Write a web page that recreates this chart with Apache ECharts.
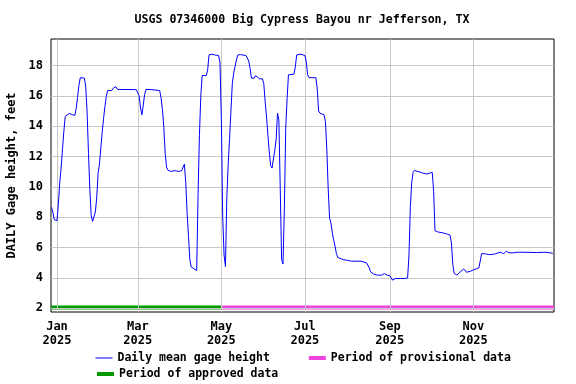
<!DOCTYPE html>
<html><head><meta charset="utf-8">
<script src="https://cdn.jsdelivr.net/npm/echarts@6/dist/echarts.min.js"></script>
<style>html,body{margin:0;padding:0;background:#fff}#c{width:576px;height:384px}</style>
</head><body><div id="c"></div>
<script>
const titleText = 'USGS 07346000 Big Cypress Bayou nr Jefferson, TX';
const yAxisTitle = 'DAILY Gage height, feet';
const seriesNames = ['Daily mean gage height', 'Period of provisional data', 'Period of approved data'];

const dates = [
'2024-12-28','2024-12-29','2024-12-30','2024-12-31','2025-01-01','2025-01-02','2025-01-03','2025-01-04','2025-01-05','2025-01-06',
'2025-01-07','2025-01-08','2025-01-10','2025-01-11','2025-01-14','2025-01-15','2025-01-16','2025-01-17','2025-01-18','2025-01-21',
'2025-01-22','2025-01-23','2025-01-24','2025-01-25','2025-01-26','2025-01-27','2025-01-28','2025-01-29','2025-01-30','2025-01-31',
'2025-02-01','2025-02-02','2025-02-03','2025-02-04','2025-02-05','2025-02-06','2025-02-07','2025-02-10','2025-02-11','2025-02-13',
'2025-02-14','2025-02-15','2025-02-16','2025-02-26','2025-02-28','2025-03-01','2025-03-02','2025-03-03','2025-03-04','2025-03-05',
'2025-03-06','2025-03-07','2025-03-10','2025-03-17','2025-03-18','2025-03-19','2025-03-20','2025-03-21','2025-03-22','2025-03-23',
'2025-03-25','2025-03-28','2025-03-31','2025-04-02','2025-04-03','2025-04-04','2025-04-05','2025-04-06','2025-04-07','2025-04-08',
'2025-04-09','2025-04-10','2025-04-11','2025-04-12','2025-04-13','2025-04-14','2025-04-15','2025-04-16','2025-04-17','2025-04-20',
'2025-04-21','2025-04-22','2025-04-24','2025-04-26','2025-04-29','2025-04-30','2025-05-01','2025-05-02','2025-05-03','2025-05-04',
'2025-05-05','2025-05-06','2025-05-07','2025-05-08','2025-05-09','2025-05-10','2025-05-11','2025-05-12','2025-05-13','2025-05-15',
'2025-05-19','2025-05-20','2025-05-21','2025-05-22','2025-05-23','2025-05-25','2025-05-26','2025-05-27','2025-05-29','2025-05-31',
'2025-06-01','2025-06-02','2025-06-03','2025-06-04','2025-06-05','2025-06-06','2025-06-07','2025-06-08','2025-06-09','2025-06-10',
'2025-06-11','2025-06-12','2025-06-13','2025-06-14','2025-06-15','2025-06-16','2025-06-17','2025-06-18','2025-06-19','2025-06-23',
'2025-06-24','2025-06-25','2025-06-28','2025-07-01','2025-07-02','2025-07-03','2025-07-04','2025-07-09','2025-07-10','2025-07-11',
'2025-07-12','2025-07-15','2025-07-16','2025-07-17','2025-07-18','2025-07-19','2025-07-20','2025-07-21','2025-07-22','2025-07-23',
'2025-07-24','2025-07-25','2025-07-26','2025-07-29','2025-08-01','2025-08-04','2025-08-11','2025-08-15','2025-08-16','2025-08-17',
'2025-08-18','2025-08-20','2025-08-23','2025-08-26','2025-08-28','2025-08-30','2025-09-01','2025-09-02','2025-09-03','2025-09-04',
'2025-09-05','2025-09-06','2025-09-09','2025-09-12','2025-09-14','2025-09-15','2025-09-16','2025-09-17','2025-09-18','2025-09-19',
'2025-09-21','2025-09-23','2025-09-25','2025-09-28','2025-09-30','2025-10-02','2025-10-03','2025-10-04','2025-10-06','2025-10-10',
'2025-10-13','2025-10-15','2025-10-16','2025-10-17','2025-10-18','2025-10-20','2025-10-21','2025-10-23','2025-10-25','2025-10-27',
'2025-10-28','2025-10-30','2025-11-01','2025-11-03','2025-11-05','2025-11-06','2025-11-07','2025-11-08','2025-11-10','2025-11-13',
'2025-11-17','2025-11-19','2025-11-21','2025-11-23','2025-11-24','2025-11-25','2025-11-27','2025-11-28','2025-11-30','2025-12-03',
'2025-12-08','2025-12-09','2025-12-17','2025-12-24','2025-12-29'
];
const gageHeight = [
8.65,8.34,7.84,7.77,7.77,8.87,10.25,11.24,12.45,13.65,
14.64,14.75,14.84,14.75,14.70,15.15,15.90,16.68,17.20,17.17,
16.60,14.90,12.20,9.80,8.10,7.73,7.85,8.34,9.27,10.90,
11.50,11.55,13.60,14.50,15.30,15.96,16.35,16.35,16.50,16.60,
16.44,16.50,16.42,16.42,16.40,16.30,16.00,15.20,14.75,15.40,
16.10,16.42,16.42,16.35,15.85,15.10,13.90,12.20,11.30,11.10,
11.02,11.07,11.02,11.07,11.20,11.50,10.30,8.30,6.80,5.20,
4.72,4.66,4.60,4.52,4.48,9.50,13.40,16.00,17.34,17.34,
17.70,18.70,18.75,18.70,18.66,18.20,14.50,8.00,5.50,4.75,
9.30,11.50,13.20,15.00,16.80,17.50,17.93,18.37,18.70,18.72,
18.66,18.55,18.30,17.80,17.17,17.17,17.34,17.22,17.12,17.12,
16.80,15.60,14.60,13.40,12.30,11.40,11.24,11.30,12.40,13.10,
14.86,14.40,9.90,5.20,4.92,8.50,13.87,15.80,17.39,17.43,
17.90,18.70,18.75,18.66,18.26,17.39,17.20,17.20,16.50,15.00,
14.86,14.75,14.30,12.50,9.92,7.95,7.62,7.00,6.50,6.10,
5.60,5.35,5.27,5.20,5.16,5.10,5.10,4.99,4.92,4.66,
4.40,4.26,4.18,4.18,4.28,4.18,4.15,4.00,3.85,3.90,
3.96,3.93,3.96,3.96,4.00,5.50,8.70,10.30,10.95,11.09,
11.02,10.98,10.91,10.85,10.91,10.95,9.70,7.11,7.03,6.96,
6.88,6.81,6.30,4.88,4.30,4.18,4.26,4.44,4.59,4.37,
4.26,4.44,4.53,4.59,4.66,5.10,5.60,5.62,5.58,5.53,
5.58,5.65,5.69,5.58,5.71,5.76,5.65,5.58,5.65,5.69,
5.69,5.62,5.67,5.69,5.62
];

const xTickDates = ['2025-01-01','2025-03-01','2025-05-01','2025-07-01','2025-09-01','2025-11-01'];
const xTickLabels = ['Jan\n2025','Mar\n2025','May\n2025','Jul\n2025','Sep\n2025','Nov\n2025'];
const yTicks = [2,4,6,8,10,12,14,16,18];
const xRange = ['2024-12-27 15:00','2025-12-29 21:00'];
const yRange = [1.75, 19.75];
const approvedPeriod = ['2024-12-27 15:00','2025-05-01 17:00'];
const provisionalPeriod = ['2025-05-01 17:00','2025-12-29 21:00'];
const periodBarLevel = 2.04;

function ts(s) {
  const m = s.match(/(\d+)-(\d+)-(\d+)(?:[ T](\d+):(\d+))?/);
  return Date.UTC(+m[1], +m[2]-1, +m[3], m[4] ? +m[4] : 0, m[5] ? +m[5] : 0);
}

const FONT = '"DejaVu Sans Mono", "Liberation Mono", monospace';
const xTickTs = xTickDates.map(ts);
const lineData = dates.map((d, i) => [ts(d), gageHeight[i]]);
const legendText = {fontFamily: FONT, fontWeight: 'bold', fontSize: 11.5, color: '#000', lineHeight: 14};
const legendCommon = {left: 95, padding: 0, itemWidth: 17, itemHeight: 8, textStyle: legendText,
  selectedMode: false, itemStyle: {opacity: 0, borderWidth: 0}};

const chart = echarts.init(document.getElementById('c'), null, {renderer: 'canvas'});
chart.setOption({
  animation: false,
  backgroundColor: '#fff',
  title: {
    text: titleText, left: 302, top: 14, textAlign: 'center', padding: 0,
    textStyle: {fontFamily: FONT, fontWeight: 'bold', fontSize: 11.6, color: '#000'}
  },
  grid: {left: 51, right: 22, top: 39, bottom: 72, outerBoundsMode: 'none', containLabel: false,
         show: true, borderColor: '#000', borderWidth: 1, backgroundColor: '#fff'},
  legend: [
    Object.assign({data: [
      {name: seriesNames[0], lineStyle: {width: 1}},
      {name: seriesNames[1], lineStyle: {width: 4}}
    ], top: 351, itemGap: 37}, legendCommon),
    Object.assign({data: [{name: seriesNames[2], lineStyle: {width: 4}}], top: 367}, legendCommon)
  ],
  xAxis: {
    type: 'value', min: ts(xRange[0]), max: ts(xRange[1]),
    axisLine: {show: false}, axisTick: {show: false}, splitLine: {show: false},
    axisLabel: {
      customValues: xTickTs,
      formatter: function (v) { const i = xTickTs.indexOf(v); return i >= 0 ? xTickLabels[i] : ''; },
      fontFamily: FONT, fontWeight: 'bold', fontSize: 12, lineHeight: 14, color: '#000', margin: 8
    }
  },
  yAxis: {
    type: 'value', min: yRange[0], max: yRange[1],
    name: yAxisTitle, nameLocation: 'middle', nameGap: 33,
    nameTextStyle: {fontFamily: FONT, fontWeight: 'bold', fontSize: 12, color: '#000'},
    axisLine: {show: false}, axisTick: {show: false}, splitLine: {show: false},
    axisLabel: {customValues: yTicks, fontFamily: FONT, fontWeight: 'bold', fontSize: 12, color: '#000', margin: 8}
  },
  series: [
    {
      name: 'gridlines', type: 'line', data: [], z: 1, silent: true,
      markLine: {
        silent: true, symbol: 'none', label: {show: false}, animation: false,
        lineStyle: {color: '#c8c8c8', type: 'solid', width: 1},
        data: yTicks.map(v => ({yAxis: v})).concat(xTickTs.map(t => ({xAxis: t})))
      }
    },
    {
      name: seriesNames[2], type: 'line', symbol: 'none', z: 2, silent: true,
      lineStyle: {color: '#009900', width: 4}, itemStyle: {color: '#009900'},
      data: [[ts(approvedPeriod[0]), periodBarLevel], [ts(approvedPeriod[1]), periodBarLevel]]
    },
    {
      name: seriesNames[1], type: 'line', symbol: 'none', z: 2, silent: true,
      lineStyle: {color: '#ee44dd', width: 4}, itemStyle: {color: '#ee44dd'},
      data: [[ts(provisionalPeriod[0]), periodBarLevel], [ts(provisionalPeriod[1]), periodBarLevel]]
    },
    {
      name: seriesNames[0], type: 'line', symbol: 'none', z: 5,
      lineStyle: {color: '#0000ff', width: 1}, itemStyle: {color: '#0000ff'},
      data: lineData
    }
  ]
});
</script>
</body></html>
